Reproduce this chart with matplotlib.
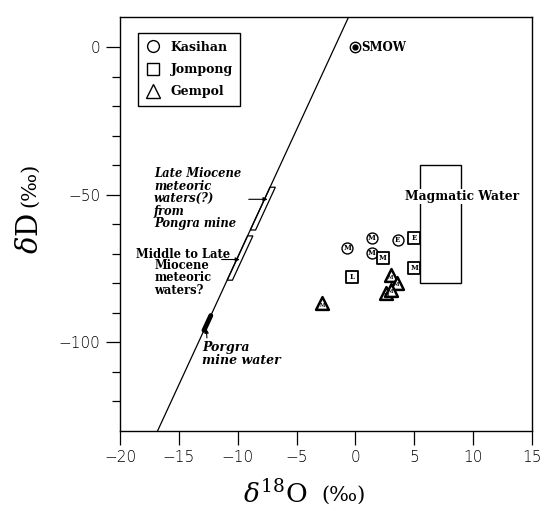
import numpy as np
import matplotlib
matplotlib.use('Agg')
import matplotlib.pyplot as plt
from matplotlib.lines import Line2D
from matplotlib.patches import Polygon, Rectangle

plt.rcParams['font.family'] = 'DejaVu Serif'
plt.rcParams['mathtext.fontset'] = 'dejavuserif'

# sample data (delta18O, deltaD) with the letter written in each marker
kas_x = [-0.7, 1.4, 1.4, 3.6]
kas_y = [-68.1, -64.8, -69.8, -65.4]
kas_lab = ['M', 'M', 'M', 'E']
jom_x = [2.3, 5.0, 5.0, -0.3]
jom_y = [-71.5, -64.8, -74.9, -78.0]
jom_lab = ['M', 'E', 'M', 'L']
gem_x = [3.0, 3.5, 2.6, 3.0, -2.8]
gem_y = [-77.3, -79.8, -83.4, -82.2, -86.7]

# meteoric water line as drawn (end points)
mwl_x = [-16.8, -0.6]
mwl_y = [-130, 10]
late_band = [-47.5, -62]
mid_band = [-64, -79]
porgra_range = [-91, -96]
magmatic_x = [5.5, 9.0]
magmatic_y = [-80, -40]

fig = plt.figure(figsize=(5.49, 5.11), dpi=100)
W, H = 549.0, 511.0
ax = fig.add_axes([120/W, 1-430.7/H, 412/W, 413.2/H])
ax.set_xlim(-20, 15)
ax.set_ylim(-130, 10)

slope = (mwl_y[1]-mwl_y[0]) / (mwl_x[1]-mwl_x[0])

def mx(d):
    return mwl_x[0] + (np.asarray(d) - mwl_y[0]) / slope

# meteoric line
ax.plot(mwl_x, mwl_y, color='k', lw=0.9)

# thin bands along the line
for b in [late_band, mid_band]:
    pts = [(mx(b[0]), b[0]), (mx(b[0])+0.45, b[0]), (mx(b[1])+0.45, b[1]), (mx(b[1]), b[1])]
    ax.add_patch(Polygon(pts, closed=True, fill=False, ec='k', lw=0.9))

# Porgra mine water
pr = np.array(porgra_range)
ax.plot(mx(pr), pr, color='k', lw=3.5, solid_capstyle='round')

# magmatic water box
ax.add_patch(Rectangle((magmatic_x[0], magmatic_y[0]), magmatic_x[1]-magmatic_x[0],
                       magmatic_y[1]-magmatic_y[0], fill=False, ec='k', lw=1.0))
ax.text(4.2, -50.6, 'Magmatic Water', fontsize=8.8, fontweight='bold', va='center', ha='left',
        bbox=dict(fc='white', ec='none', pad=0.5), zorder=3)

# samples
ax.scatter(kas_x, kas_y, s=62, marker='o', facecolor='white', edgecolor='k', lw=1.0, zorder=4)
ax.scatter(jom_x, jom_y, s=68, marker='s', facecolor='white', edgecolor='k', lw=1.3, zorder=4)
ax.scatter(gem_x, gem_y, s=85, marker='^', facecolor='white', edgecolor='k', lw=1.8, zorder=4)
for x, y, t in zip(kas_x, kas_y, kas_lab):
    ax.text(x, y, t, fontsize=5, fontweight='bold', ha='center', va='center', zorder=5)
for x, y, t in zip(jom_x, jom_y, jom_lab):
    ax.text(x, y, t, fontsize=5, fontweight='bold', ha='center', va='center', zorder=5)
for x, y in zip(gem_x, gem_y):
    ax.text(x, y-0.8, 'M', fontsize=3.5, fontweight='bold', ha='center', va='center', zorder=5)

# SMOW
ax.plot([0], [0], marker='o', ms=7.5, mfc='white', mec='k', mew=1.0)
ax.plot([0], [0], marker='o', ms=3.5, color='k')
ax.text(0.5, 0, 'SMOW', fontsize=8.5, fontweight='bold', va='center', ha='left')

# annotations
ax.text(-17.1, -40.8, 'Late Miocene\nmeteoric\nwaters(?)\nfrom\nPongra mine', fontsize=8.3,
        fontweight='bold', style='italic', va='top', ha='left', linespacing=0.95)
ax.annotate('', xy=(mx(-51.6)+0.5, -51.6), xytext=(-9.3, -51.6),
            arrowprops=dict(arrowstyle='-|>', color='k', lw=0.8, mutation_scale=6))
ax.text(-18.6, -68, 'Middle to Late', fontsize=8.3, fontweight='bold', va='top', ha='left')
ax.text(-17.1, -71.8, 'Miocene\nmeteoric\nwaters?', fontsize=8.3, fontweight='bold', va='top',
        ha='left', linespacing=0.95)
ax.annotate('', xy=(mx(-72)+0.5, -72), xytext=(-11.6, -72),
            arrowprops=dict(arrowstyle='-|>', color='k', lw=0.8, mutation_scale=6))
ax.text(-13.0, -99.5, 'Porgra\nmine water', fontsize=9, fontweight='bold', style='italic',
        va='top', ha='left', linespacing=1.05)
ax.annotate('', xy=(mx(-94.5), -94.5), xytext=(-12.6, -99.5),
            arrowprops=dict(arrowstyle='-|>', color='k', lw=0.8, mutation_scale=6))

# legend
handles = [Line2D([], [], marker='o', ls='none', mfc='white', mec='k', ms=8.5),
           Line2D([], [], marker='s', ls='none', mfc='white', mec='k', ms=8.5),
           Line2D([], [], marker='^', ls='none', mfc='white', mec='k', ms=9.5)]
leg = ax.legend(handles, ['Kasihan', 'Jompong', 'Gempol'], loc='upper left',
                bbox_to_anchor=(0.044, 0.962), fancybox=False, framealpha=1, borderaxespad=0,
                edgecolor='k', prop={'family': 'DejaVu Serif', 'weight': 'bold', 'size': 9},
                handletextpad=0.8, labelspacing=0.75, borderpad=0.6, handlelength=1.2)
leg.get_frame().set_linewidth(1.0)

# ticks
ax.set_xticks(np.arange(-20, 16, 5))
ax.set_xticklabels(['\u221220', '\u221215', '\u221210', '\u22125', '0', '5', '10', '15'])
ax.set_yticks([0, -50, -100])
ax.set_yticklabels(['0', '\u221250', '\u2212100'])
ax.set_yticks(np.arange(-120, 10, 10), minor=True)
ax.tick_params(axis='both', which='major', direction='out', length=10, width=0.9,
               labelsize=11, pad=4)
ax.tick_params(axis='y', which='minor', direction='out', length=5.5, width=0.9)
for lab in ax.get_xticklabels() + ax.get_yticklabels():
    lab.set_family('DejaVu Sans')
    lab.set_fontweight('light')
for s in ax.spines.values():
    s.set_linewidth(1.0)

# axis titles: big symbol, smaller unit
fig.text(307/W, 1-494/H, '$\\delta^{18}$O', fontsize=19, ha='right', va='center')
fig.text(321/W, 1-495/H, '(\u2030)', fontsize=15, ha='left', va='center')
fig.text(30/W, 1-213/H, '$\\delta$D', fontsize=21, rotation=90, ha='center', va='top')
fig.text(30/W, 1-207/H, '(\u2030)', fontsize=15, rotation=90, ha='center', va='bottom')

fig.savefig('out.png', dpi=100)
